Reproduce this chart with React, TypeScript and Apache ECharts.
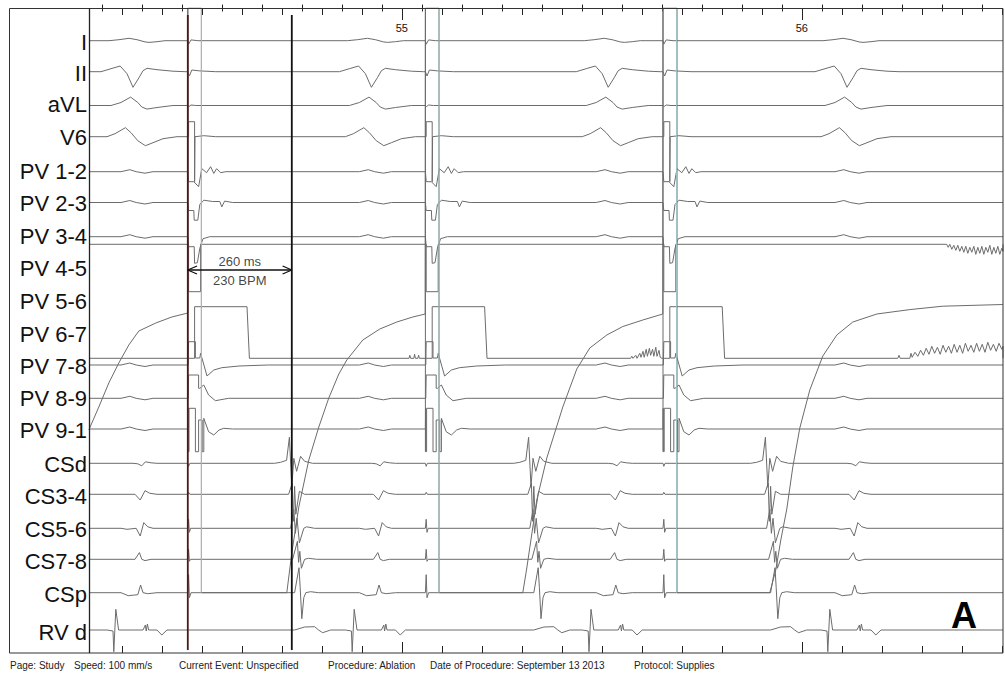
import React, { useEffect, useRef } from 'react';
import * as echarts from 'echarts';

type Pt = [number, number];

// ---- time axis (ms of the recording) ----
const T_MIN = 54218;
const T_MAX = 56503;
const SECOND_TICKS = [55000, 56000];
const MINOR_TICKS: number[] = [];
const MAJOR_TICKS: number[] = [];
for (let t = 54250; t <= 56500; t += 50) {
  if (t % 1000 === 0) continue;
  if (t % 100 === 0) MAJOR_TICKS.push(t); else MINOR_TICKS.push(t);
}

// ---- events (ms) ----
const BEATS = [54328, 54924, 55516, 56113];      // ventricular beats (II trough)
const STIMS = [54465, 55059, 55653];             // pacing artefacts
const STIM_B_DELAY = 34;                          // second artefact line
const CS_CAPTURES = [54722, 55320, 55912];       // large CS complexes
const CALIPERS = [54465, 54725];
const CALIPER_TEXT = ['260 ms', '230 BPM'];

// ---- channel names ----
const CHANNELS = ['I', 'II', 'aVL', 'V6', 'PV 1-2', 'PV 2-3', 'PV 3-4', 'PV 4-5', 'PV 5-6', 'PV 6-7',
  'PV 7-8', 'PV 8-9', 'PV 9-1', 'CSd', 'CS3-4', 'CS5-6', 'CS7-8', 'CSp', 'RV d'];

// ---- waveform templates: [ms offset, amplitude] ----
const I_BEAT: Pt[] = [[-60, 0], [-35, 1], [-10, 2.4], [10, 1], [30, -1.2], [40, -1.7], [60, -1], [80, 0]];
const I_STIM: Pt[] = [[0, 0], [2, -3.5], [8, 0.8], [25, 0]];
const II_BEAT: Pt[] = [[-80, 0], [-55, 3], [-32, 5.7], [-15, -2], [0, -15.6], [15, -6], [25, 1], [35, 3.4], [60, 2], [100, 0.5], [130, 0]];
const II_STIM: Pt[] = [[0, 0], [4, -4.3], [10, 1.7], [30, 0.8], [70, 0]];
const AVL_BEAT: Pt[] = [[-55, 0], [-30, 3], [-6, 8.4], [12, 3], [22, -1.5], [35, -3.6], [60, -2], [100, 0]];
const AVL_STIM: Pt[] = [[0, 0], [3, -1], [8, 0.5], [20, 0]];
const V6_BEAT: Pt[] = [[-65, 0], [-45, 3], [-19, 9], [-5, 4], [12, -4], [31, -9], [50, -6], [75, -2], [110, 0]];
const V6_STIM: Pt[] = [[2, 0], [2, 15], [17, 15], [17, -45], [18, 0], [40, 1], [70, 0]];
const PV_FAR: Pt[] = [[-30, 0], [-8, 2], [8, 0], [30, -1.5], [50, 0]];
const PV12_STIM: Pt[] = [[0, 0], [2, -10], [15, -10], [27, -15], [35, 3], [47, -1], [57, 5], [65, -1.7], [72, 3], [82, -1], [95, 0]];
const PV23_STIM: Pt[] = [[0, 0], [2, -8], [15, -8], [16, -17.7], [25, -17.7], [30, -2], [40, 2.3], [62, 1], [80, 1], [85, -4.4], [92, 1.4], [112, 0]];
const PV34_STIM: Pt[] = [[0, 0], [2, -10], [16, -10], [17, -26.6], [24, -26], [30, -11.6], [38, -2], [55, 0]];
const PV45_STIM: Pt[] = [[2, 0], [2, -47.4], [32, -47.4], [32, 0]];
const PV45_NOISE: Pt[] = [[56362, 0], [56366, -3], [56370, 0], [56375, -5], [56380, -1], [56385, -6], [56390, -1], [56395, -7], [56400, -2], [56405, -8], [56410, -2], [56415, -9], [56420, -3], [56425, -8], [56430, -2], [56435, -10], [56440, -3], [56445, -9], [56450, -2], [56455, -10], [56460, -3], [56465, -8], [56470, -1], [56475, -10], [56480, -3], [56485, -9], [56490, -2], [56495, -10], [56500, -4], [56503, -7]];
const PV56_STIM: Pt[] = [[17, 0], [17, 51.6], [148, 51.6], [154, 0]];
const PV56_NOISE: Pt[] = [
  [55018, 0], [55020, 3], [55022, 0], [55030, 0], [55032, 4], [55034, 0], [55040, 0], [55042, 3], [55044, 0],
  [55572, 0], [55575, 2], [55578, 0], [55585, 3], [55588, 0], [55595, 5], [55598, 1], [55603, 7], [55606, 1], [55611, 9], [55614, 2], [55619, 10], [55622, 3], [55627, 9], [55630, 2], [55635, 11], [55638, 2], [55643, 8], [55646, 1], [55650, 0],
  [56240, 0], [56243, 3], [56246, 0], [56270, 0], [56273, 5], [56276, 1], [56283, 6], [56290, 2], [56297, 8], [56304, 3], [56311, 10], [56318, 4], [56325, 12], [56332, 5], [56339, 11], [56346, 4], [56353, 13], [56360, 6], [56367, 12], [56374, 5], [56381, 14], [56388, 6], [56395, 13], [56402, 5], [56409, 15], [56416, 7], [56423, 13], [56430, 6], [56437, 15], [56444, 7], [56451, 14], [56458, 6], [56465, 16], [56472, 8], [56479, 14], [56486, 7], [56493, 15], [56500, 9], [56503, 12]];
// saturated PV 6-7 channel, absolute [ms, amplitude]
const PV67_CURVE: Pt[] = [
  [54217.5, 162.7], [54242.5, 185.7], [54267.5, 209.7], [54292.5, 229.7], [54317.5, 247.7], [54342.5, 261.7], [54385, 269.7], [54425, 275.7], [54460, 279.2], [54465, 279.7], [54465, 584.7], [54499, 584.7], [54499, 0],
  [54712.5, 0], [54725, 39.7], [54742.5, 85.7], [54767.5, 132.7], [54792.5, 165.7], [54817.5, 194.7], [54842.5, 218.7], [54862.5, 232.7], [54902.5, 252.7], [54945, 263.7], [54987.5, 270.7], [55027.5, 275.7], [55058.5, 278.7], [55059, 584.7], [55093, 584.7], [55093, 0],
  [55302.5, 0], [55312.5, 24.7], [55337.5, 92.7], [55362.5, 134.7], [55402.5, 185.7], [55437.5, 223.7], [55470, 244.7], [55512.5, 257.7], [55552.5, 266.2], [55602.5, 272.7], [55652.5, 278.7], [55653, 584.7], [55688, 584.7], [55688, 0],
  [55920, 0], [55935, 22.7], [55947.5, 52.7], [55962.5, 83.7], [55977.5, 125.7], [55995, 164.7], [56020, 202.7], [56052.5, 236.7], [56087.5, 257.7], [56127.5, 270.7], [56187.5, 278.7], [56270, 283.1], [56352.5, 286.5], [56502.5, 288.2]];
const PV78_STIM: Pt[] = [[1, 0], [2, 23.3], [19, 23.3], [19, 7], [30, 7], [32, 11.7], [48, -11], [65, -5], [85, -2.7], [128, -1], [200, 0]];
const PV89_STIM: Pt[] = [[1, 0], [2, 23.3], [27, 23.3], [27, 10], [30, 10], [40, 13.3], [52, 3.3], [69, -2.4], [102, 0]];
const PV91_STIM: Pt[] = [[0, 0], [0.5, 20.7], [1, -22.7], [3, -22.7], [3, 20.7], [19, 20.7], [19, -22.7], [27, -22.7], [27, 9], [36, 9], [36, -22.7], [40, -22.7], [40, 10.7], [52, -2.7], [65, -6], [78, -1], [90, 0.7], [112, 0]];
const CSD_BEAT: Pt[] = [[0, 0], [12, -0.5], [22, -2.5], [31, 1.5], [45, 0.5], [60, 0]];
const CSD_STIM: Pt[] = [[0, 0], [2, -3], [5, 0]];
const CSD_CS: Pt[] = [[-40, 0], [-25, 1], [-10, 3], [-3, 26], [3, -24], [8, 5], [15, -8], [25, 7], [35, 2], [55, 0]];
const CS34_BEAT: Pt[] = [[5, 0], [18, -5.7], [30, 3.6], [42, 1], [60, 0]];
const CS34_STIM: Pt[] = [[0, 0], [2, 2], [5, 0]];
const CS34_CS: Pt[] = [[-5, 0], [4, 11], [7, -27], [10, 8], [13, -20], [22, 3], [35, 0]];
const CS56_BEAT: Pt[] = [[-30, 0], [-15, -1], [8, 0], [18, -7.7], [27, 5.7], [37, 1.5], [50, 0]];
const CS56_STIM: Pt[] = [[0, 0], [2, 9], [4, -4], [7, 0]];
const CS56_CS: Pt[] = [[0, 0], [8, 19], [12, -5], [16, 10], [22, -14.5], [33, 0], [40, 1.5], [60, 0]];
const CS78_BEAT: Pt[] = [[5, 0], [16, 6.7], [22, 0], [30, -1.3], [45, 0]];
const CS78_STIM: Pt[] = [[0, 0], [2, 10], [4, -2], [7, 0]];
const CS78_CS: Pt[] = [[5, 0], [17, 18], [20, -3], [23, 8], [27, -9], [35, 0], [45, 1], [65, 0]];
const CSP_BEAT: Pt[] = [[-30, 0], [-12, -3], [12, -2], [19, 7.7], [25, 0], [37, -1], [60, 0]];
const CSP_STIM: Pt[] = [[0, 0], [2, 18], [4, -5], [8, 0]];
const CSP_CS: Pt[] = [[10, 0], [21, 25], [24, 5], [28, -26], [33, -5], [38, 0], [50, 1], [70, 0]];
const RV_BEAT: Pt[] = [[-65, 0], [-50, -1], [-48, -21.7], [-43, 20.7], [-36, 0], [25, 0], [31, 5], [33, -1], [36, 6], [39, 0], [60, 0], [72, -5], [85, 0]];
const RV_CS: Pt[] = [[10, 0], [35, 3], [60, 3.3], [70, 0], [80, -2.7], [100, 0]];

// ---- layout (page pixels) ----
const W = 1005, H = 673;
const GRID_LEFT = 89, GRID_TOP = 8, GRID_W = 914, GRID_H = 645;
const LABEL_Y = [42.5, 73.3, 104.5, 137.5, 171.7, 203.8, 236.3, 268.8, 301.2, 334.5, 366.3, 398.8, 430.8, 464, 496.5, 529.3, 561.5, 594, 632];
const FONT = "'Liberation Sans', Arial, Helvetica, sans-serif";
const TRACE_COLOR = '#6c6c6c';

function place(events: number[], tpl: Pt[]): Pt[] {
  const out: Pt[] = [];
  for (const e of events) for (const [dt, a] of tpl) out.push([e + dt, a]);
  return out;
}
function trace(base: number, pieces: Pt[][]): Pt[] {
  const pts: Pt[] = [[T_MIN, 0]];
  pieces.forEach((p) => p.forEach((q) => pts.push(q)));
  pts.push([T_MAX, 0]);
  pts.sort((p, q) => p[0] - q[0]);
  return pts.map(([t, a]) => [t, base - GRID_TOP - a] as Pt);
}

function buildOption() {
  const traces: { name: string; data: Pt[]; color?: string }[] = [
    { name: 'I', data: trace(40.7, [place(BEATS, I_BEAT), place(STIMS, I_STIM)]) },
    { name: 'II', data: trace(71.7, [place(BEATS, II_BEAT), place(STIMS, II_STIM)]) },
    { name: 'aVL', data: trace(105.5, [place(BEATS, AVL_BEAT), place(STIMS, AVL_STIM)]) },
    { name: 'V6', data: trace(136.7, [place(BEATS, V6_BEAT), place(STIMS, V6_STIM)]) },
    { name: 'PV 1-2', data: trace(171.7, [place(BEATS, PV_FAR), place(STIMS, PV12_STIM)]) },
    { name: 'PV 2-3', data: trace(202.5, [place(BEATS, PV_FAR), place(STIMS, PV23_STIM)]) },
    { name: 'PV 3-4', data: trace(236.7, [place(BEATS, PV_FAR), place(STIMS, PV34_STIM)]) },
    { name: 'PV 4-5', data: trace(244.3, [place(STIMS, PV45_STIM), PV45_NOISE]) },
    { name: 'PV 5-6', data: trace(358.3, [place(STIMS, PV56_STIM), PV56_NOISE]) },
    { name: 'PV 6-7', data: PV67_CURVE.map(([t, a]) => [t, 592.7 - GRID_TOP - a] as Pt) },
    { name: 'PV 7-8', data: trace(365, [place(BEATS, PV_FAR), place(STIMS, PV78_STIM)]) },
    { name: 'PV 8-9', data: trace(398.3, [place(BEATS, PV_FAR), place(STIMS, PV89_STIM)]) },
    { name: 'PV 9-1', data: trace(429, [place(BEATS, PV_FAR), place(STIMS, PV91_STIM)]) },
    { name: 'CSd', data: trace(463.3, [place(BEATS, CSD_BEAT), place(STIMS, CSD_STIM), place(CS_CAPTURES, CSD_CS)]) },
    { name: 'CS3-4', data: trace(494.3, [place(BEATS, CS34_BEAT), place(STIMS, CS34_STIM), place(CS_CAPTURES, CS34_CS)]) },
    { name: 'CS5-6', data: trace(528.3, [place(BEATS, CS56_BEAT), place(STIMS, CS56_STIM), place(CS_CAPTURES, CS56_CS)]) },
    { name: 'CS7-8', data: trace(559.3, [place(BEATS, CS78_BEAT), place(STIMS, CS78_STIM), place(CS_CAPTURES, CS78_CS)]) },
    { name: 'CSp', data: trace(592.7, [place(BEATS, CSP_BEAT), place(STIMS, CSP_STIM), place(CS_CAPTURES, CSP_CS)]) },
    { name: 'RV d', data: trace(630, [place(BEATS, RV_BEAT), place(CS_CAPTURES, RV_CS)]) },
  ];

  const lineSeries = (name: string, data: Pt[], color: string, width = 1, z = 2) => ({
    name, type: 'line', data, showSymbol: false, symbol: 'none', silent: true, z,
    lineStyle: { color, width }, xAxisIndex: 0, yAxisIndex: 0,
  });

  const series: any[] = traces.map((tr) => lineSeries(tr.name, tr.data, TRACE_COLOR));
  STIMS.forEach((s, i) => {
    series.push(lineSeries('stimA' + i, [[s, 0], [s, 451.7 - GRID_TOP]], '#6a6a6a', 1, 3));
    series.push(lineSeries('stimB' + i, [[s + STIM_B_DELAY, 0], [s + STIM_B_DELAY, 592.7 - GRID_TOP]], '#a3c2c2', 1, 3));
  });
  // calipers
  series.push(lineSeries('caliper1', [[CALIPERS[0], 15 - GRID_TOP], [CALIPERS[0], 650 - GRID_TOP]], '#4a1a1a', 1.8, 5));
  series.push(lineSeries('caliper2', [[CALIPERS[1], 15 - GRID_TOP], [CALIPERS[1], 650 - GRID_TOP]], '#111111', 1.8, 5));
  const ay = 270 - GRID_TOP;
  series.push(lineSeries('arrow', [[CALIPERS[0], ay], [CALIPERS[1], ay]], '#111', 1.3, 6));
  series.push(lineSeries('arrowL', [[CALIPERS[0] + 23, ay - 4], [CALIPERS[0], ay], [CALIPERS[0] + 23, ay + 4]], '#111', 1.3, 6));
  series.push(lineSeries('arrowR', [[CALIPERS[1] - 23, ay - 4], [CALIPERS[1], ay], [CALIPERS[1] - 23, ay + 4]], '#111', 1.3, 6));
  const mid = (CALIPERS[0] + CALIPERS[1]) / 2;
  series.push({
    type: 'scatter', symbolSize: 0, silent: true, z: 7,
    data: [
      { value: [mid, 261.7 - GRID_TOP], label: { formatter: CALIPER_TEXT[0] } },
      { value: [mid, 280.7 - GRID_TOP], label: { formatter: CALIPER_TEXT[1] } },
    ],
    label: { show: true, position: 'inside', fontSize: 13, color: '#111', fontFamily: FONT },
  });

  const tickAxis = (position: string, values: number[], len: number, labels = false) => ({
    type: 'value', position, min: T_MIN, max: T_MAX, gridIndex: 0,
    axisLine: { show: false }, splitLine: { show: false },
    axisTick: { show: true, inside: true, length: len, customValues: values, lineStyle: { color: '#222', width: 1 } },
    axisLabel: labels
      ? { show: true, inside: true, customValues: SECOND_TICKS, formatter: (v: number) => String(Math.round(v / 1000)), fontSize: 11, color: '#111', margin: 14, fontFamily: FONT }
      : { show: false },
  });

  return {
    animation: false,
    backgroundColor: '#ffffff',
    grid: { left: GRID_LEFT, top: GRID_TOP, width: GRID_W, height: GRID_H, containLabel: false },
    xAxis: [
      tickAxis('bottom', MINOR_TICKS, 3.5),
      tickAxis('bottom', MAJOR_TICKS, 7),
      tickAxis('bottom', SECOND_TICKS, 11),
      tickAxis('top', MINOR_TICKS, 3.5),
      tickAxis('top', MAJOR_TICKS, 7),
      tickAxis('top', SECOND_TICKS, 12, true),
    ],
    yAxis: {
      type: 'value', min: 0, max: GRID_H, inverse: true,
      axisLine: { show: false }, axisTick: { show: false }, splitLine: { show: false },
      axisLabel: {
        show: true, margin: 2, fontSize: 22, color: '#111', fontFamily: FONT,
        customValues: LABEL_Y.map((y) => y - GRID_TOP),
        formatter: (v: number) => {
          const i = LABEL_Y.findIndex((y) => Math.abs(y - GRID_TOP - v) < 0.01);
          return i >= 0 ? CHANNELS[i] : '';
        },
      },
    },
    series,
    graphic: [
      { type: 'rect', shape: { x: 9.5, y: 8.5, width: 993.5, height: 644.5 }, style: { fill: 'none', stroke: '#333', lineWidth: 1 }, z: 10, silent: true },
      { type: 'line', shape: { x1: 89.5, y1: 8, x2: 89.5, y2: 653 }, style: { stroke: '#222', lineWidth: 1.3 }, z: 10, silent: true },
      { type: 'text', x: 964, y: 615, style: { text: 'A', font: `bold 36px ${FONT}`, fill: '#000', align: 'center', verticalAlign: 'middle' }, z: 10 },
      ...[
        ['Page: Study', 10], ['Speed: 100 mm/s', 74], ['Current Event: Unspecified', 179],
        ['Procedure: Ablation', 328], ['Date of Procedure: September 13 2013', 430], ['Protocol: Supplies', 634],
      ].map(([t, x]) => ({
        type: 'text', x: x as number, y: 665,
        style: { text: t as string, font: `10px ${FONT}`, fill: '#222', align: 'left', verticalAlign: 'middle' },
      })),
    ],
  };
}

export default function App() {
  const ref = useRef<HTMLDivElement>(null);
  useEffect(() => {
    if (!ref.current) return;
    const chart = echarts.init(ref.current, undefined, { renderer: 'svg' });
    chart.setOption(buildOption() as any);
    return () => chart.dispose();
  }, []);
  return <div ref={ref} style={{ position: 'fixed', left: 0, top: 0, width: W, height: H, background: '#fff' }} />;
}
